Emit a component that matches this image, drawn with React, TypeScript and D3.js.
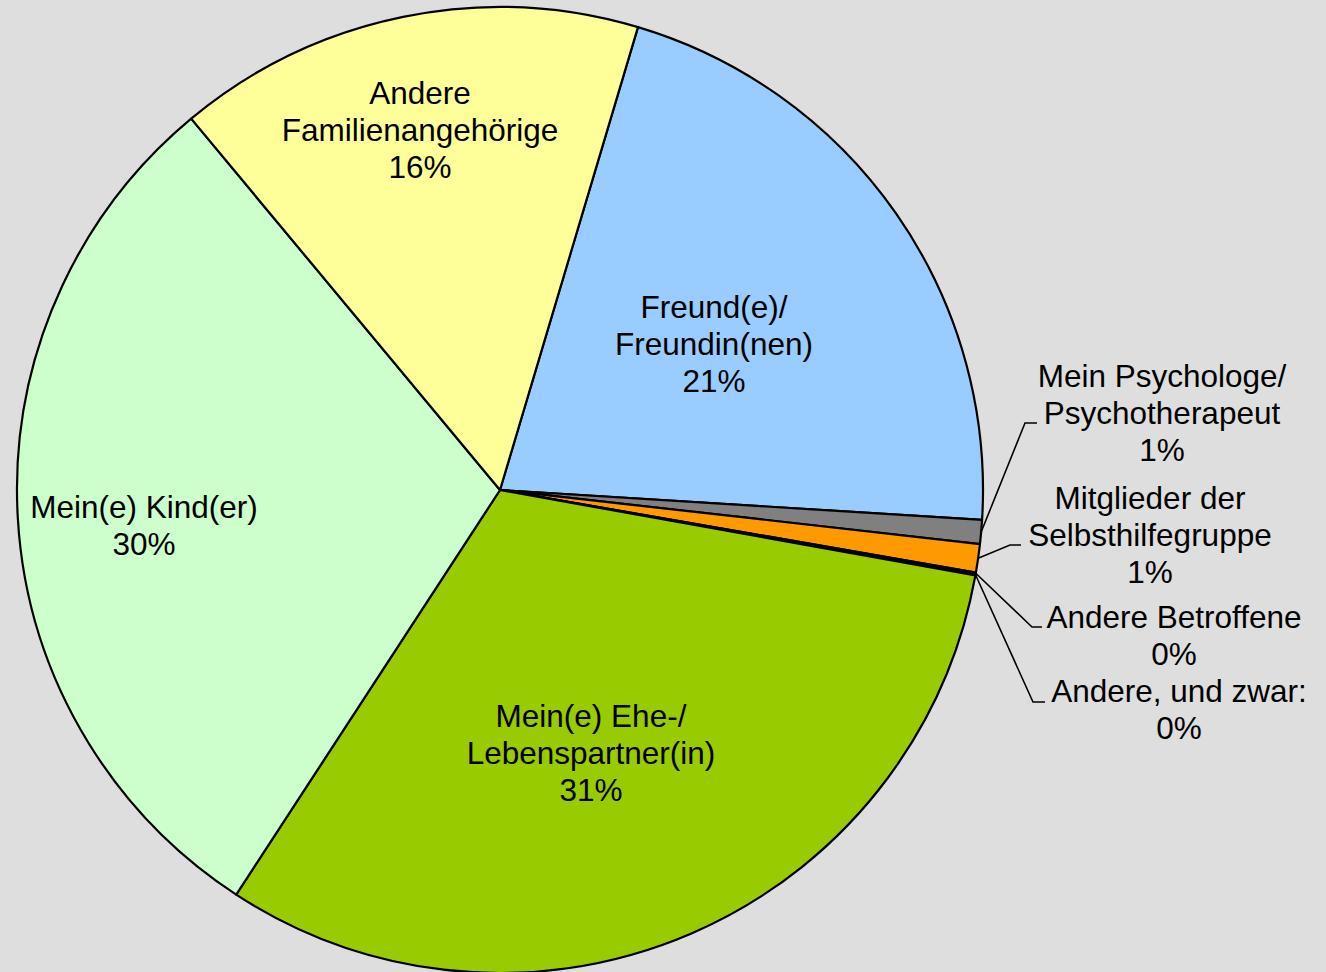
import React from "react";
import * as d3 from "d3";

const categories = [
  "Freund(e)/\nFreundin(nen)",
  "Mein Psychologe/\nPsychotherapeut",
  "Mitglieder der\nSelbsthilfegruppe",
  "Andere Betroffene",
  "Andere, und zwar:",
  "Mein(e) Ehe-/\nLebenspartner(in)",
  "Mein(e) Kind(er)",
  "Andere\nFamilienangehörige",
];
const values = [21.4, 0.8, 0.95, 0.05, 0.05, 31.4, 29.8, 15.67];
const percentLabels = ["21%", "1%", "1%", "0%", "0%", "31%", "30%", "16%"];
const colors = ["#99CCFF", "#808080", "#FF9900", "#FFFFFF", "#FFFFFF", "#99CC00", "#CCFFCC", "#FFFF99"];

// layout: label center x, first baseline y, optional leader bend point (x,y) and end x
const labelLayout = [
  { x: 714, y: 318, leader: null },
  { x: 1162, y: 387, leader: [1025, 423, 1037] },
  { x: 1150, y: 509, leader: [1010, 545, 1021] },
  { x: 1174, y: 628, leader: [1032, 627, 1042] },
  { x: 1179, y: 702, leader: [1033, 702, 1045] },
  { x: 591, y: 727, leader: null },
  { x: 144, y: 518, leader: null },
  { x: 420, y: 104, leader: null },
];

const W = 1326;
const H = 972;
const CX = 500;
const CY = 490;
const R = 483;
const START = (16.6 * Math.PI) / 180;
const FONT = 31.5;
const LINE = 37;

export default function App() {
  const pie = d3
    .pie<number>()
    .sort(null)
    .value((d) => d)
    .startAngle(START)
    .endAngle(START + 2 * Math.PI);
  const arcs = pie(values);
  const arc = d3.arc<d3.PieArcDatum<number>>().innerRadius(0).outerRadius(R);

  return (
    <svg
      width={W}
      height={H}
      style={{ position: "absolute", left: 0, top: 0, background: "#DEDEDE" }}
      fontFamily="'Liberation Sans', Arial, sans-serif"
    >
      <rect x={0} y={0} width={W} height={H} fill="#DEDEDE" />
      <g transform={`translate(${CX},${CY})`}>
        {arcs.map((a, i) => (
          <path key={i} d={arc(a) || ""} fill={colors[i]} stroke="#000" strokeWidth={2.2} strokeLinejoin="round" />
        ))}
      </g>
      {arcs.map((a, i) => {
        const L = labelLayout[i];
        if (!L.leader) return null;
        const mid = (a.startAngle + a.endAngle) / 2;
        const sx = CX + R * Math.sin(mid);
        const sy = CY - R * Math.cos(mid);
        const [bx, by, ex] = L.leader;
        return (
          <polyline
            key={"l" + i}
            points={`${sx},${sy} ${bx},${by} ${ex},${by}`}
            fill="none"
            stroke="#000"
            strokeWidth={1.6}
          />
        );
      })}
      {categories.map((c, i) => {
        const L = labelLayout[i];
        const lines = [...c.split("\n"), percentLabels[i]];
        return (
          <text key={"t" + i} x={L.x} y={L.y} fontSize={FONT} textAnchor="middle" fill="#000">
            {lines.map((ln, j) => (
              <tspan key={j} x={L.x} y={L.y + j * LINE}>
                {ln}
              </tspan>
            ))}
          </text>
        );
      })}
    </svg>
  );
}
